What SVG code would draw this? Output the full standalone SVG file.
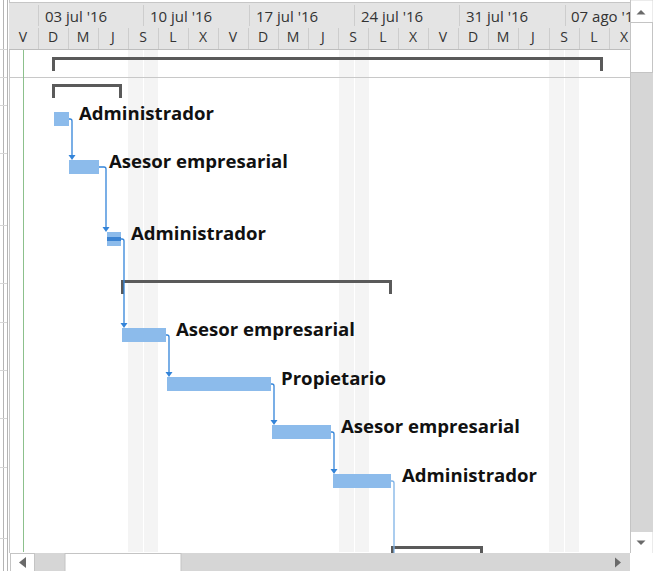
<svg xmlns="http://www.w3.org/2000/svg" width="653" height="571" viewBox="0 0 653 571">
<style>
.hd{font-family:"Open Sans","Noto Sans",sans-serif;font-size:15px;fill:#333}
.dl{font-family:"Open Sans","Noto Sans",sans-serif;font-size:14px;fill:#333;text-anchor:middle}
.lb{font-family:"Open Sans","Noto Sans",sans-serif;font-size:17px;font-weight:bold;fill:#111}
.bar{fill:#8cbbeb}
.br{fill:none;stroke:#5a5a5a;stroke-width:3}
.cn{fill:none;stroke:#3384d9;stroke-width:1.3}
.ah{fill:#3384d9}
.sep{stroke:#cdcdcd;stroke-width:1}
.wk{fill:#f4f4f4}
.sb{fill:#d6d6d6}
.arr{fill:#6a6a6a}
</style>
<defs>
<clipPath id="chart"><rect x="9" y="0" width="621" height="552"/></clipPath>
</defs>
<rect width="653" height="571" fill="#ffffff"/>
<g id="left-edge">
<line x1="3.5" y1="0" x2="3.5" y2="571" stroke="#b4b4b4"/>
<line x1="7.5" y1="0" x2="7.5" y2="571" stroke="#b4b4b4"/>
<line x1="9.5" y1="0" x2="9.5" y2="553" stroke="#c8c8c8"/>
<g stroke="#d6d6d6">
<line x1="0" y1="49.5" x2="7" y2="49.5"/>
<line x1="0" y1="77.5" x2="7" y2="77.5"/>
<line x1="0" y1="105.5" x2="7" y2="105.5"/>
<line x1="0" y1="153.5" x2="7" y2="153.5"/>
<line x1="0" y1="225.5" x2="7" y2="225.5"/>
<line x1="0" y1="283.5" x2="7" y2="283.5"/>
<line x1="0" y1="322.5" x2="7" y2="322.5"/>
<line x1="0" y1="370.5" x2="7" y2="370.5"/>
<line x1="0" y1="418.5" x2="7" y2="418.5"/>
<line x1="0" y1="467.5" x2="7" y2="467.5"/>
<line x1="0" y1="538.5" x2="7" y2="538.5"/>
</g>
</g>
<g id="chart-area" clip-path="url(#chart)">
<rect class="wk" x="128" y="49" width="30" height="504"/>
<rect class="wk" x="339" y="49" width="30" height="504"/>
<rect class="wk" x="549" y="49" width="30" height="504"/>
<g stroke="#ffffff" stroke-width="1">
<line x1="143.5" y1="49" x2="143.5" y2="553"/>
<line x1="354.5" y1="49" x2="354.5" y2="553"/>
<line x1="564.5" y1="49" x2="564.5" y2="553"/>
</g>
<line x1="9" y1="77.5" x2="630" y2="77.5" stroke="#c8c8c8"/>
<line x1="23.5" y1="49" x2="23.5" y2="553" stroke="#8cc08c"/>
</g>
<g id="timescale" clip-path="url(#chart)">
<rect x="9" y="2" width="621" height="47" fill="#e4e4e4"/>
<line x1="9" y1="2.5" x2="630" y2="2.5" stroke="#c6c6c6"/>
<line x1="9" y1="49.5" x2="630" y2="49.5" stroke="#bdbdbd"/>
<g class="sep">
<line x1="38.5" y1="5" x2="38.5" y2="26"/>
<line x1="143.5" y1="5" x2="143.5" y2="26"/>
<line x1="249.5" y1="5" x2="249.5" y2="26"/>
<line x1="354.5" y1="5" x2="354.5" y2="26"/>
<line x1="459.5" y1="5" x2="459.5" y2="26"/>
<line x1="565.5" y1="5" x2="565.5" y2="26"/>
<line x1="38.5" y1="28" x2="38.5" y2="49"/>
<line x1="68.5" y1="28" x2="68.5" y2="49"/>
<line x1="98.5" y1="28" x2="98.5" y2="49"/>
<line x1="128.5" y1="28" x2="128.5" y2="49"/>
<line x1="158.5" y1="28" x2="158.5" y2="49"/>
<line x1="188.5" y1="28" x2="188.5" y2="49"/>
<line x1="218.5" y1="28" x2="218.5" y2="49"/>
<line x1="248.5" y1="28" x2="248.5" y2="49"/>
<line x1="278.5" y1="28" x2="278.5" y2="49"/>
<line x1="308.5" y1="28" x2="308.5" y2="49"/>
<line x1="338.5" y1="28" x2="338.5" y2="49"/>
<line x1="368.5" y1="28" x2="368.5" y2="49"/>
<line x1="398.5" y1="28" x2="398.5" y2="49"/>
<line x1="428.5" y1="28" x2="428.5" y2="49"/>
<line x1="458.5" y1="28" x2="458.5" y2="49"/>
<line x1="488.5" y1="28" x2="488.5" y2="49"/>
<line x1="518.5" y1="28" x2="518.5" y2="49"/>
<line x1="549.5" y1="28" x2="549.5" y2="49"/>
<line x1="579.5" y1="28" x2="579.5" y2="49"/>
<line x1="609.5" y1="28" x2="609.5" y2="49"/>
</g>
<text class="hd" x="45" y="22">03 jul '16</text>
<text class="hd" x="150" y="22">10 jul '16</text>
<text class="hd" x="256" y="22">17 jul '16</text>
<text class="hd" x="361" y="22">24 jul '16</text>
<text class="hd" x="466" y="22">31 jul '16</text>
<text class="hd" x="571" y="22">07 ago '16</text>
<text class="dl" x="23" y="42">V</text>
<text class="dl" x="53" y="42">D</text>
<text class="dl" x="83" y="42">M</text>
<text class="dl" x="113" y="42">J</text>
<text class="dl" x="143" y="42">S</text>
<text class="dl" x="173" y="42">L</text>
<text class="dl" x="203" y="42">X</text>
<text class="dl" x="233" y="42">V</text>
<text class="dl" x="263" y="42">D</text>
<text class="dl" x="293" y="42">M</text>
<text class="dl" x="323" y="42">J</text>
<text class="dl" x="353" y="42">S</text>
<text class="dl" x="383" y="42">L</text>
<text class="dl" x="413" y="42">X</text>
<text class="dl" x="443" y="42">V</text>
<text class="dl" x="473" y="42">D</text>
<text class="dl" x="503" y="42">M</text>
<text class="dl" x="533" y="42">J</text>
<text class="dl" x="564" y="42">S</text>
<text class="dl" x="594" y="42">L</text>
<text class="dl" x="624" y="42">X</text>
</g>
<g id="summary-project"><path class="br" d="M53.5,71 V58.5 H601.5 V71"/></g>
<g id="summary-1"><path class="br" d="M53.5,98 V85.5 H120.5 V98"/></g>
<g id="summary-2"><path class="br" d="M122.5,294 V281.5 H390.5 V294"/></g>
<g id="summary-3"><path class="br" d="M392.5,553 V547.5 H481.5 V553"/></g>
<g id="task-1"><rect class="bar" x="54" y="112" width="15" height="14"/><text class="lb" x="79" y="120" textLength="135" lengthAdjust="spacingAndGlyphs">Administrador</text></g>
<g id="task-2"><rect class="bar" x="69" y="160" width="30" height="14"/><text class="lb" x="109" y="168" textLength="179" lengthAdjust="spacingAndGlyphs">Asesor empresarial</text></g>
<g id="task-3"><rect class="bar" x="107" y="232" width="14" height="14"/><rect x="107" y="237" width="14" height="4" fill="#3b83d2"/><text class="lb" x="131" y="240" textLength="135" lengthAdjust="spacingAndGlyphs">Administrador</text></g>
<g id="task-4"><rect class="bar" x="122" y="328" width="44" height="14"/><text class="lb" x="176" y="336" textLength="179" lengthAdjust="spacingAndGlyphs">Asesor empresarial</text></g>
<g id="task-5"><rect class="bar" x="167" y="377" width="104" height="14"/><text class="lb" x="281" y="385" textLength="105" lengthAdjust="spacingAndGlyphs">Propietario</text></g>
<g id="task-6"><rect class="bar" x="272" y="425" width="59" height="14"/><text class="lb" x="341" y="433" textLength="179" lengthAdjust="spacingAndGlyphs">Asesor empresarial</text></g>
<g id="task-7"><rect class="bar" x="333" y="474" width="58" height="14"/><text class="lb" x="402" y="482" textLength="135" lengthAdjust="spacingAndGlyphs">Administrador</text></g>
<g id="connectors">
<path class="cn" d="M69,119 H70 Q72,119 72,121 V157"/>
<polygon class="ah" points="68.5,155 75.5,155 72,160"/>
<path class="cn" d="M99,167 H104 Q106,167 106,169 V229"/>
<polygon class="ah" points="102.5,227 109.5,227 106,232"/>
<path class="cn" d="M121,239 H122 Q124,239 124,241 V325"/>
<polygon class="ah" points="120.5,323 127.5,323 124,328"/>
<path class="cn" d="M166,335 H167 Q169,335 169,337 V374"/>
<polygon class="ah" points="165.5,372 172.5,372 169,377"/>
<path class="cn" d="M271,384 H272 Q274,384 274,386 V422"/>
<polygon class="ah" points="270.5,420 277.5,420 274,425"/>
<path class="cn" d="M331,432 H332 Q334,432 334,434 V471"/>
<polygon class="ah" points="330.5,469 337.5,469 334,474"/>
<path class="cn" d="M391,481 H392 Q394,481 394,483 V553" style="stroke:#7fb3e6"/>
</g>
<g id="vscroll">
<rect x="630" y="0" width="23" height="553" class="sb"/>
<rect x="630.5" y="0.5" width="22" height="22" fill="#ffffff"/>
<rect x="630.5" y="22.5" width="22" height="50" fill="#ffffff" stroke="#c4c4c4"/>
<rect x="630.5" y="532" width="22" height="21" fill="#ffffff"/>
<line x1="630.5" y1="0" x2="630.5" y2="553" stroke="#c4c4c4"/>
<polygon class="arr" points="636.5,14.5 645.5,14.5 641,10"/>
<polygon class="arr" points="636.5,540.5 645.5,540.5 641,545"/>
</g>
<g id="hscroll">
<rect x="0" y="553" width="653" height="18" fill="#ffffff"/>
<line x1="3.5" y1="553" x2="3.5" y2="571" stroke="#b4b4b4"/>
<line x1="7.5" y1="553" x2="7.5" y2="571" stroke="#b4b4b4"/>
<rect x="10" y="553" width="620" height="18" class="sb"/>
<rect x="10.5" y="553.5" width="24" height="18" fill="#ffffff" stroke="#c4c4c4"/>
<rect x="65" y="553.5" width="116" height="18" fill="#ffffff" stroke="#c4c4c4"/>
<polygon class="arr" points="26,557 26,568 19,562.5"/>
<polygon class="arr" points="615,557.5 615,567.5 621,562.5"/>
</g>
</svg>
